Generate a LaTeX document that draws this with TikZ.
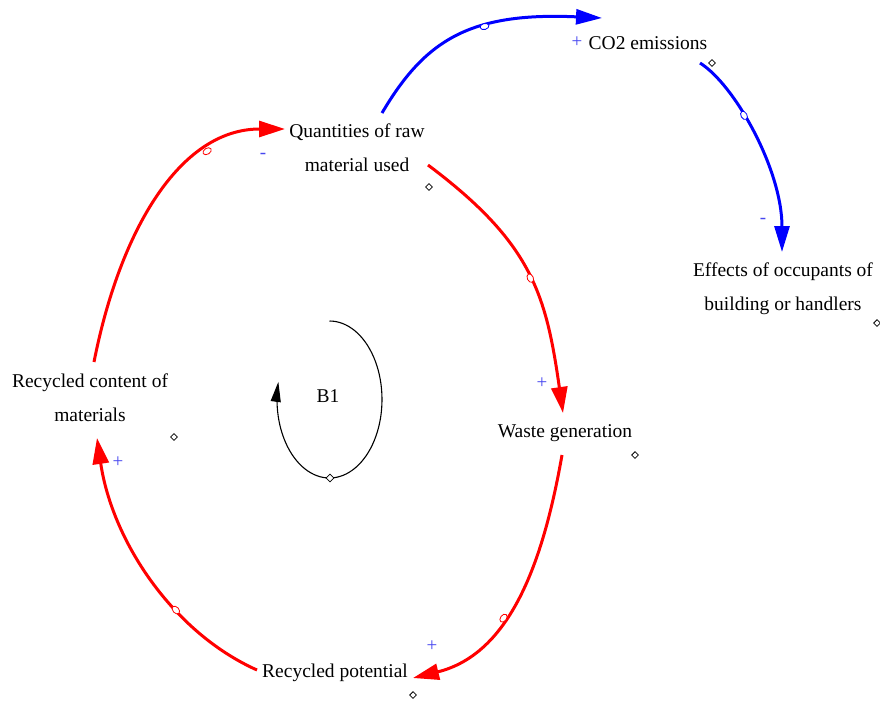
\documentclass[tikz,border=0pt]{standalone}
\usepackage{fontspec}
\setmainfont{Liberation Serif}
\usetikzlibrary{arrows.meta,shapes.geometric}
\definecolor{redl}{RGB}{255,0,0}
\definecolor{bluel}{RGB}{0,0,255}
\definecolor{signc}{RGB}{70,70,240}
\begin{document}
\begin{tikzpicture}[x=1pt,y=-1pt,
  var/.style={font=\fontsize{19.5}{34}\selectfont, align=center, inner sep=0pt, text=black},
  redlink/.style={draw=redl, line width=3pt, -{Triangle[length=26pt,width=16pt]}},
  bluelink/.style={draw=bluel, line width=3pt, -{Triangle[length=26pt,width=15pt]}},
  lmark/.style={ellipse, draw, fill=white, line width=0.8pt, minimum width=9pt, minimum height=6pt, inner sep=0pt, sloped},
  handle/.style={diamond, draw=black, fill=white, line width=0.8pt, minimum size=7pt, inner sep=0pt},
  sign/.style={font=\fontsize{19}{19}\selectfont, text=signc, inner sep=0pt}
]
\fill[white] (0,0) rectangle (880,702);
\useasboundingbox (0,0) rectangle (880,702);

% variables
\node[var] (q) at (357,148) {Quantities of raw\\material used};
\node[var] (co2) at (648,43) {CO2 emissions};
\node[var] (eff) at (783,289) {Effects of occupants of\\building or handlers};
\node[var] (w) at (565,433) {Waste generation};
\node[var] (rp) at (335,673) {Recycled potential};
\node[var] (rc) at (90,398) {Recycled content of\\materials};
\node[var] (b1) at (328,396) {B1};

% handles
\node[handle] (hq) at (429,187) {};
\node[handle] (hco2) at (712,63) {};
\node[handle] (heff) at (877,323) {};
\node[handle] (hw) at (635,455) {};
\node[handle] (hrp) at (413,695) {};
\node[handle] (hrc) at (174,437) {};

% red loop
\draw[redlink] ([shift={(71,17)}]q.center) .. controls (532,243) and (546,294) .. ([shift={(-2,-20)}]w.center)
  node[lmark, draw=redl, pos=0.52] (m1) {};
\draw[redlink] ([shift={(-3,22)}]w.center) .. controls (543,563) and (510,654) .. ([shift={(78,5)}]rp.center)
  node[lmark, draw=redl, pos=0.59] (m2) {};
\draw[redlink] ([shift={(-78,-3)}]rp.center) .. controls (172,632) and (112,540) .. ([shift={(7,40)}]rc.center)
  node[lmark, draw=redl, pos=0.36] (m3) {};
\draw[redlink] ([shift={(4,-36)}]rc.center) .. controls (120,230) and (180,129) .. ([shift={(-72,-19)}]q.center)
  node[lmark, draw=redl, pos=0.72] (m4) {};

% blue links
\draw[bluelink] ([shift={(25,-35)}]q.center) .. controls (425,40) and (470,12) .. ([shift={(-46,-25)}]co2.center)
  node[lmark, draw=bluel, pos=0.62] (m5) {};
\draw[bluelink] ([shift={(52,20)}]co2.center) .. controls (735,85) and (782,170) .. ([shift={(-1,-37)}]eff.center)
  node[lmark, draw=bluel, pos=0.4] (m6) {};

% polarity signs
\node[sign] (s1) at (263,156) {-};
\node[sign] (s2) at (577,42) {+};
\node[sign] (s3) at (763,221) {-};
\node[sign] (s4) at (542,383) {+};
\node[sign] (s5) at (432,646) {+};
\node[sign] (s6) at (118,462) {+};

% loop symbol
\draw[black, line width=1.1pt, -{Triangle[length=20pt,width=10pt]}]
  plot[domain=-90:193, samples=80] ({329.5+52.5*cos(\x)}, {399.5+78.5*sin(\x)});
\node[handle, minimum size=8pt] (hb1) at (330,478) {};
\end{tikzpicture}
\end{document}
